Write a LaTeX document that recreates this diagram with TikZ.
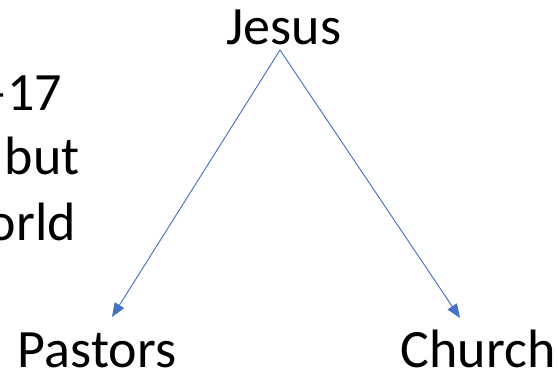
\documentclass[tikz,border=0pt]{standalone}
\usepackage{fontspec}
\setmainfont{Carlito}
\usetikzlibrary{arrows.meta}
\definecolor{officeblue}{HTML}{4472C4}
\tikzset{
  lbl/.style={font=\fontsize{54}{54}\selectfont, inner sep=0pt, text=black},
  conn/.style={draw=officeblue, line width=0.9pt, -{Triangle[length=14pt,width=11pt]}, fill=officeblue},
}
\begin{document}
\begin{tikzpicture}[x=1pt,y=-1pt]
\useasboundingbox (0,0) rectangle (559,376);
\clip (0,0) rectangle (559,376);
\node[lbl, anchor=base] (jesus) at (284,44) {Jesus};
\node[lbl, anchor=base] (pastors) at (97,367) {Pastors};
\node[lbl, anchor=base] (church) at (478,367) {Church};
\node[lbl, anchor=base east] (l1) at (62,110) {–17};
\node[lbl, anchor=base east] (l2) at (80,174) {but};
\node[lbl, anchor=base east] (l3) at (76,240) {orld};
\coordinate (apex) at (280,50);
\coordinate (pend) at (112,317);
\coordinate (cend) at (460,318);
\draw[conn] (apex) -- (pend);
\draw[conn] (apex) -- (cend);
\end{tikzpicture}
\end{document}
